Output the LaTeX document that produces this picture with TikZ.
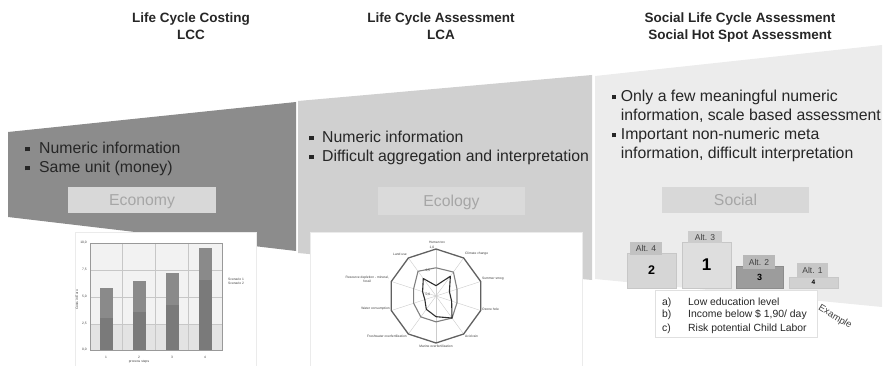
\documentclass[tikz,border=0pt]{standalone}
\usepackage{fontspec}
\setmainfont{Liberation Sans}
\newcommand\sqbul{\rule[2pt]{4.4pt}{4.4pt}}
\definecolor{bandA}{HTML}{8C8C8C}
\definecolor{bandB}{HTML}{D0D0D0}
\definecolor{bandC}{HTML}{ECECEC}
\definecolor{tagfill}{HTML}{D8D8D8}
\definecolor{tagtext}{HTML}{A6A6A6}
\definecolor{ink}{HTML}{262626}
\begin{document}
\begin{tikzpicture}[x=1pt,y=-1pt,
  title/.style={font=\fontsize{13.5}{16}\selectfont\bfseries, text=ink, anchor=base, inner sep=0pt},
  bullets/.style={font=\fontsize{15.8}{19}\selectfont, text=ink, anchor=base west, inner sep=0pt},
  tag/.style={minimum width=148pt, minimum height=26pt, inner sep=0pt, text height=11.4pt, text depth=0pt,
    fill=tagfill, font=\fontsize{15.8}{19}\selectfont, text=tagtext},
  chartbox/.style={fill=white, draw=black!8, line width=0.4pt},
  tiny/.style={font=\fontsize{3.3}{3.8}\selectfont, text=black!75, inner sep=0pt},
  block/.style={draw=black!22, line width=0.4pt, inner sep=0pt},
  alttag/.style={fill=black!24, inner sep=0pt, minimum width=32pt, minimum height=13pt,
    font=\fontsize{8.5}{9}\selectfont, text=black!75},
  spoke/.style={draw=black!20, line width=0.4pt},
]
\useasboundingbox (0,0) rectangle (889,366);

% ---- column headings ----
\node[title] (t1a) at (191,23) {Life Cycle Costing};
\node[title] (t1b) at (191,40) {LCC};
\node[title] (t2a) at (441,23) {Life Cycle Assessment};
\node[title] (t2b) at (441,40) {LCA};
\node[title] (t3a) at (740,23) {Social Life Cycle Assessment};
\node[title] (t3b) at (740,40) {Social Hot Spot Assessment};

% ---- widening bands ----
\fill[bandA] (8,132) -- (296,102) -- (296,251) -- (8,217) -- cycle;
\fill[bandB] (298,101) -- (592,75) -- (592,280) -- (298,253) -- cycle;
\fill[bandC] (595,76) -- (882,45) -- (882,307) -- (595,279) -- cycle;

% ---- bullet texts ----
\node[bullets] (b1) at (25,153.5) {\begin{tabular}[t]{@{}l@{\hspace{9.6pt}}l@{}}
  \sqbul & Numeric information\\
  \sqbul & Same unit (money)\end{tabular}};
\node[bullets] (b2) at (309,142.5) {\begin{tabular}[t]{@{}l@{\hspace{8.6pt}}l@{}}
  \sqbul & Numeric information\\
  \sqbul & Difficult aggregation and interpretation\end{tabular}};
\node[bullets] (b3) at (611.5,101.5) {\begin{tabular}[t]{@{}l@{\hspace{4.8pt}}l@{}}
  \sqbul & Only a few meaningful numeric\\
         & information, scale based assessment\\
  \sqbul & Important non-numeric meta\\
         & information, difficult interpretation\end{tabular}};

% ---- pillar tags ----
\node[tag] (eco) at (142,200) {Economy};
\node[tag, fill=black!14.5, minimum width=147pt, minimum height=28pt] (ecol) at (451.5,201) {Ecology};
\node[tag, minimum width=147pt] (soc) at (735.5,200) {Social};

% ---- cost bar chart ----
\draw[chartbox] (75,232) rectangle (256,366);
\fill[black!5] (90,243) rectangle (222,324);
\fill[black!11] (90,324) rectangle (222,350);
\foreach \gy in {270,297,324} \draw[black!22, line width=0.3pt] (90,\gy) -- (222,\gy);
\foreach \gx in {122,155,188} \draw[black!22, line width=0.3pt] (\gx,243) -- (\gx,350);
\foreach \bx/\top/\mid in {106/288/318, 139/281/312, 172/273/305, 205/248/280}{
  \fill[black!46] (\bx-6.5,\top) rectangle (\bx+6.5,\mid);
  \fill[black!52] (\bx-6.5,\mid) rectangle (\bx+6.5,350);
}
\draw[black!40, line width=0.6pt] (90,243) rectangle (222,350);
\foreach \gy/\lab in {243/{10,0},270/{7,5},297/{5,0},324/{2,5},350/{0,0}}
  \node[tiny, anchor=east] at (87,\gy) {\lab};
\foreach \bx/\lab in {106/1,139/2,172/3,205/4}
  \node[tiny] at (\bx,357) {\lab};
\node[tiny] (xax) at (139,361.5) {process steps};
\node[tiny, rotate=90] (yax) at (77,300) {Costs in Euro};
\node[tiny, anchor=west] (lg1) at (228,279) {Scenario 1};
\node[tiny, anchor=west] (lg2) at (228,283.5) {Scenario 2};

% ---- impact radar chart ----
\draw[chartbox] (310,232) rectangle (582,366);
\begin{scope}[shift={(436,296)}]
  \foreach \k in {0,...,9} \draw[spoke] (0,0) -- (-90+36*\k:47);
  \draw[black!62, line width=1.3pt, line join=round]
    (-90:47) \foreach \k in {1,...,9} { -- (-90+36*\k:47) } -- cycle;
  \draw[black!50, line width=1.1pt, line join=round]
    (-90:0.6*47) -- (-54:0.63*47) -- (-18:0.47*47) -- (18:0.47*47) -- (54:0.58*47)
    -- (90:0.55*47) -- (126:0.55*47) -- (162:0.5*47) -- (198:0.5*47) -- (234:0.65*47) -- cycle;
  \draw[black!82, line width=1.1pt, line join=round]
    (-90:0.22*47) -- (-54:0.52*47) -- (-18:0.3*47) -- (18:0.35*47) -- (54:0.58*47)
    -- (90:0.44*47) -- (126:0.35*47) -- (162:0.25*47) -- (198:0.3*47) -- (234:0.46*47) -- cycle;
\end{scope}
\node[tiny] (r0) at (437,242) {Human tox};
\node[tiny] (s10) at (432,248) {1,0};
\node[tiny] (s05) at (428,271) {0,5};
\node[tiny] (s00) at (428,295) {0,0};
\node[tiny, anchor=west] (r1) at (465,254) {Climate change};
\node[tiny, anchor=west] (r2) at (482,279) {Summer smog};
\node[tiny, anchor=west] (r3) at (482,309) {Ozone hole};
\node[tiny, anchor=west] (r4) at (465,336) {Acid rain};
\node[tiny, anchor=north] (r5) at (436,345) {Marine overfertilization};
\node[tiny, anchor=east] (r6) at (407,336) {Freshwater overfertilization};
\node[tiny, anchor=east] (r7) at (390,309) {Water consumption};
\node[tiny, anchor=east, align=center] (r8) at (389,279.5) {Resource depletion - mineral,\\fossil};
\node[tiny, anchor=east] (r9) at (407,254) {Land use};

% ---- social ranking podium ----
\node[block, fill=black!16, minimum width=49pt, minimum height=35pt,
  font=\fontsize{12.5}{13}\selectfont\bfseries] (p4) at (651.5,270.5) {2};
\node[block, fill=black!13, minimum width=49pt, minimum height=46pt,
  font=\fontsize{17}{18}\selectfont\bfseries] (p3) at (706.5,265) {1};
\node[block, fill=black!39, draw=black!45, minimum width=47pt, minimum height=22pt,
  font=\fontsize{9}{10}\selectfont\bfseries] (p2) at (759.5,277) {3};
\node[block, fill=black!18, minimum width=49pt, minimum height=11pt,
  font=\fontsize{6.5}{7}\selectfont\bfseries] (p1) at (813.5,282.5) {4};
\node[alttag] (a4) at (646,248.5) {Alt. 4};
\node[alttag, fill=black!20, minimum width=34pt, minimum height=12pt] (a3) at (705,237) {Alt. 3};
\node[alttag, fill=black!28] (a2) at (759,262) {Alt. 2};
\node[alttag, fill=black!22, minimum width=31pt, minimum height=14pt] (a1) at (812.5,270) {Alt. 1};

% ---- indicator legend ----
\draw[fill=white, draw=black!12, line width=0.5pt] (655,290) rectangle (817,337);
\node[anchor=base west, inner sep=0pt, text=ink, font=\fontsize{10.4}{13}\selectfont] (ind) at (662,305)
  {\begin{tabular}[t]{@{}p{26pt}@{}l@{}}
   a) & Low education level\\
   b) & Income below \$ 1,90/ day\\
   c) & Risk potential Child Labor\end{tabular}};
\node[rotate=-31, text=black!75, font=\fontsize{9.5}{10}\selectfont, inner sep=0pt] (ex) at (835,317) {Example};
\end{tikzpicture}
\end{document}
